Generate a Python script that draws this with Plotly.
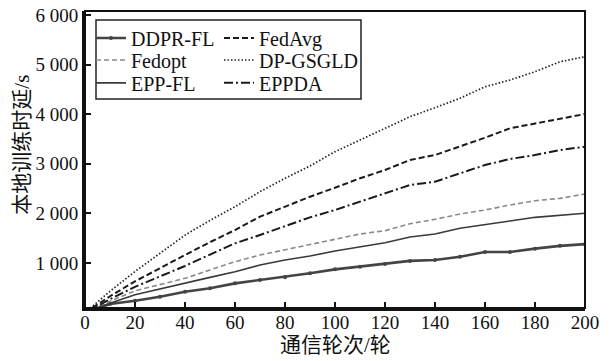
import plotly.graph_objects as go

rounds = list(range(0, 201, 10))

ddpr_fl = [0, 173, 240, 321, 422, 490, 590, 657, 711, 792, 872, 926, 980, 1043, 1060, 1127, 1222, 1222, 1290, 1346, 1380]
fedavg = [0, 330, 630, 900, 1161, 1420, 1665, 1934, 2135, 2337, 2518, 2708, 2875, 3077, 3177, 3345, 3526, 3716, 3817, 3917, 4004]
fedopt = [0, 230, 440, 570, 691, 860, 1026, 1161, 1262, 1363, 1478, 1585, 1651, 1793, 1881, 1988, 2069, 2169, 2256, 2304, 2391]
dp_gsgld = [0, 430, 830, 1200, 1562, 1860, 2135, 2438, 2708, 2956, 3244, 3480, 3716, 3950, 4131, 4321, 4554, 4690, 4857, 5058, 5159]
epp_fl = [0, 190, 360, 480, 603, 710, 825, 960, 1060, 1141, 1242, 1329, 1410, 1524, 1585, 1700, 1766, 1847, 1921, 1954, 2002]
eppda = [0, 270, 520, 730, 940, 1170, 1397, 1565, 1746, 1921, 2069, 2236, 2417, 2573, 2639, 2808, 2976, 3097, 3177, 3278, 3345]

x_ticks = [0, 20, 40, 60, 80, 100, 120, 140, 160, 180, 200]
y_ticks = [1000, 2000, 3000, 4000, 5000, 6000]
y_ticktext = ["1 000", "2 000", "3 000", "4 000", "5 000", "6 000"]

x_title = "通信轮次/轮"
y_title = "本地训练时延/s"

FONT = '"Liberation Serif", "Noto Sans CJK SC", serif'
INK = "#111111"

fig = go.Figure()

# legend slots: (x paper, y paper)
COL1, COL2 = 0.012, 0.268
ROW1, ROW2, ROW3 = 0.909, 0.835, 0.758

series = [
    ("DDPR-FL", ddpr_fl, "#444444", 2.6, "solid", True, COL1, ROW1),
    ("FedAvg", fedavg, "#1a1a1a", 2.0, "6px,3px", False, COL2, ROW1),
    ("Fedopt", fedopt, "#8a8a8a", 1.6, "5px,3px", False, COL1, ROW2),
    ("DP-GSGLD", dp_gsgld, "#222222", 1.7, "1.5px,2px", False, COL2, ROW2),
    ("EPP-FL", epp_fl, "#3a3a3a", 1.6, "solid", False, COL1, ROW3),
    ("EPPDA", eppda, "#1a1a1a", 2.0, "9px,3px,2px,3px", False, COL2, ROW3),
]

legends = {}
for i, (name, y, color, width, dash, markers, lx, ly) in enumerate(series):
    key = "legend" if i == 0 else f"legend{i + 1}"
    fig.add_trace(go.Scatter(
        x=rounds, y=y, name=name,
        mode="lines+markers" if markers else "lines",
        line=dict(color=color, width=width, dash=dash),
        marker=dict(size=4, color=color, symbol="circle"),
        legend=key,
    ))
    legends[key] = dict(
        x=lx, y=ly, xanchor="left", yanchor="middle",
        font=dict(family=FONT, size=20, color=INK),
        bgcolor="rgba(0,0,0,0)", borderwidth=0, itemwidth=30,
    )

fig.update_layout(
    width=610, height=361,
    margin=dict(l=85, r=25, t=11, b=53),
    paper_bgcolor="white",
    plot_bgcolor="white",
    font=dict(family=FONT, size=19, color=INK),
    showlegend=True,
    xaxis=dict(
        range=[0, 200],
        tickvals=x_ticks,
        ticks="inside", ticklen=6, tickwidth=1.5, tickcolor=INK,
        showline=True, linewidth=3, linecolor=INK,
        showgrid=False, zeroline=False, automargin=False,
        ticklabelstandoff=-5,
        tickfont=dict(family=FONT, size=19, color=INK),
    ),
    yaxis=dict(
        range=[93, 6081],
        tickvals=y_ticks, ticktext=y_ticktext,
        ticks="inside", ticklen=6, tickwidth=1.5, tickcolor=INK,
        showline=True, linewidth=3, linecolor=INK,
        showgrid=False, zeroline=False, automargin=False,
        tickfont=dict(family=FONT, size=19, color=INK),
    ),
    annotations=[
        dict(text=x_title, xref="paper", yref="paper", x=0.5, y=-0.125,
             xanchor="center", yanchor="middle", showarrow=False,
             font=dict(family=FONT, size=21, color=INK)),
        dict(text=y_title, xref="paper", yref="paper", x=-0.126, y=0.55,
             xanchor="center", yanchor="middle", showarrow=False, textangle=-90,
             font=dict(family=FONT, size=21, color=INK)),
    ],
    shapes=[
        dict(type="rect", xref="paper", yref="paper", x0=0, x1=1, y0=0, y1=1,
             line=dict(color=INK, width=2), fillcolor="rgba(0,0,0,0)", layer="above"),
        dict(type="rect", xref="paper", yref="paper", x0=0.022, x1=0.552, y0=0.704, y1=0.970,
             line=dict(color="#222", width=1.5), fillcolor="rgba(0,0,0,0)", layer="above"),
    ],
    **legends,
)

fig.write_html("out.html")
